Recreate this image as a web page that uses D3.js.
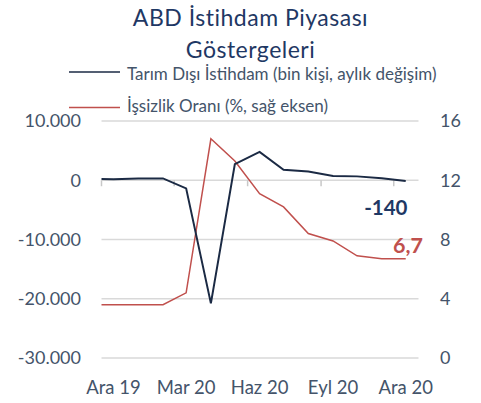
<!DOCTYPE html>
<html><head><meta charset="utf-8">
<script src="https://cdn.jsdelivr.net/npm/d3@7"></script>
<style>
body{margin:0;background:#fff;}
svg{display:block;font-family:Lato, "Open Sans", sans-serif;}
</style></head><body>
<svg id="c" width="481" height="403"></svg>
<script>
const months = ["2019-11","2019-12","2020-01","2020-02","2020-03","2020-04","2020-05","2020-06","2020-07","2020-08","2020-09","2020-10","2020-11","2020-12"];
const payrolls = [261,184,300,310,-1373,-20787,2725,4781,1761,1493,711,654,336,-140];
const unemployment = [3.6,3.6,3.6,3.6,4.4,14.8,13.3,11.1,10.2,8.4,7.9,6.9,6.7,6.7];
const leftTicks = [10000,0,-10000,-20000,-30000];
const leftTickLabels = ["10.000","0","-10.000","-20.000","-30.000"];
const rightTicks = [16,12,8,4,0];
const xTickMonths = ["2019-12","2020-03","2020-06","2020-09","2020-12"];
const xTickLabels = ["Ara 19","Mar 20","Haz 20","Eyl 20","Ara 20"];
const title = ["ABD İstihdam Piyasası","Göstergeleri"];
const seriesNames = ["Tarım Dışı İstihdam (bin kişi, aylık değişim)","İşsizlik Oranı (%, sağ eksen)"];
const lastLabels = ["-140","6,7"];

const navy = "#1b2a44", red = "#c0504d", txt = "#44546a";
const svg = d3.select("#c");
const parse = d3.utcParse("%Y-%m");
const mid = s => d3.utcDay.offset(parse(s), 15);

const x = d3.scaleUtc().domain([parse("2019-12"), parse("2021-01")]).range([101.5, 418.5]);
const yL = d3.scaleLinear().domain([-30000,10000]).range([358,121]);
const yR = d3.scaleLinear().domain([0,16]).range([358,121]);

svg.append("defs").append("clipPath").attr("id","clip")
  .append("rect").attr("x",101.5).attr("y",100).attr("width",317).attr("height",270);

svg.append("g").selectAll("line").data(leftTicks).join("line")
  .attr("x1",101.5).attr("x2",418.5)
  .attr("y1",d=>yL(d)).attr("y2",d=>yL(d))
  .attr("stroke","#d9d9d9").attr("stroke-width",1.5);

svg.append("g").selectAll("line").data(xTickMonths).join("line")
  .attr("x1",d=>x(parse(d))).attr("x2",d=>x(parse(d)))
  .attr("y1",yL(0)).attr("y2",yL(0)+6)
  .attr("stroke","#c8c8c8").attr("stroke-width",1.5);

svg.append("g").selectAll("text").data(leftTicks).join("text")
  .attr("x",81).attr("y",d=>yL(d)).attr("dy","0.36em")
  .attr("text-anchor","end").attr("fill",txt).attr("font-size",18)
  .text((d,i)=>leftTickLabels[i]);
svg.append("g").selectAll("text").data(rightTicks).join("text")
  .attr("x",440).attr("y",d=>yR(d)).attr("dy","0.36em")
  .attr("text-anchor","start").attr("fill",txt).attr("font-size",18)
  .text(d=>d);
svg.append("g").selectAll("text").data(xTickMonths).join("text")
  .attr("x",d=>x(mid(d))).attr("y",394)
  .attr("text-anchor","middle").attr("fill",txt).attr("font-size",18.5)
  .text((d,i)=>xTickLabels[i]);

const g = svg.append("g").attr("clip-path","url(#clip)");
g.append("path").datum(months.map((m,i)=>[mid(m),unemployment[i]]))
  .attr("fill","none").attr("stroke",red).attr("stroke-width",1.5)
  .attr("d",d3.line().x(d=>x(d[0])).y(d=>yR(d[1])));
g.append("path").datum(months.map((m,i)=>[mid(m),payrolls[i]]))
  .attr("fill","none").attr("stroke",navy).attr("stroke-width",2)
  .attr("d",d3.line().x(d=>x(d[0])).y(d=>yL(d[1])));

svg.append("text").attr("x",407.5).attr("y",215).attr("text-anchor","end")
  .attr("fill","#1f3864").attr("font-size",20.5).attr("font-weight","bold").text(lastLabels[0]);
svg.append("text").attr("x",423).attr("y",253).attr("text-anchor","end")
  .attr("fill",red).attr("font-size",21.5).attr("font-weight","bold").text(lastLabels[1]);

svg.append("g").selectAll("text").data(title).join("text")
  .attr("x",250.5).attr("y",(d,i)=>25.5+i*32).attr("text-anchor","middle")
  .attr("fill","#1f3864").attr("font-size",23).attr("letter-spacing",0.5).text(d=>d);

const leg = svg.append("g").selectAll("g").data(seriesNames).join("g")
  .attr("transform",(d,i)=>`translate(0,${i===0?72:107.5})`);
leg.append("line").attr("x1",69).attr("x2",120).attr("y1",0).attr("y2",0)
  .attr("stroke",(d,i)=>i===0?navy:red).attr("stroke-width",1.5);
leg.append("text").attr("x",127).attr("y",(d,i)=>i===0?7.5:4.5)
  .attr("fill",txt).attr("font-size",17).text(d=>d);
</script>
</body></html>
